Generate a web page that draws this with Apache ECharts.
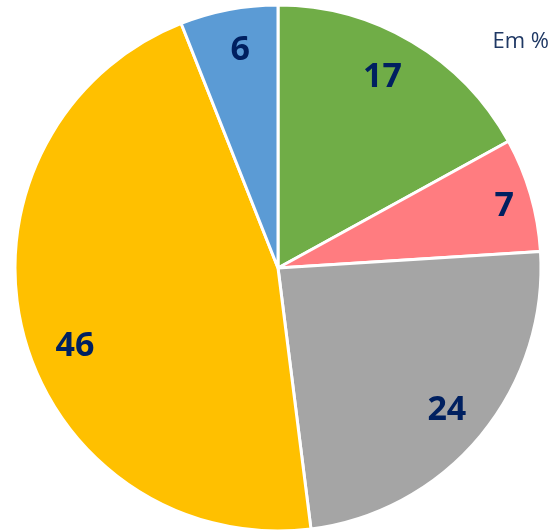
<!DOCTYPE html>
<html>
<head>
<meta charset="utf-8">
<script src="https://cdn.jsdelivr.net/npm/echarts@6/dist/echarts.min.js"></script>
<style>
	html, body { margin: 0; padding: 0; background: #fff; }
	#chart { width: 557px; height: 531px; }
</style>
</head>
<body>
<div id="chart"></div>
<script>
	var names = ['A', 'B', 'C', 'D', 'E']
	var values = [17, 7, 24, 46, 6]
	var colors = ['#70AD47', '#FF7C80', '#A5A5A5', '#FFC000', '#5B9BD5']

	var chart = echarts.init(document.getElementById('chart'))

	var labelFont = '"Open Sans", "Liberation Sans", sans-serif'
	// small nudges so the labels sit where the original placed them
	var labelNudge = [[-9, 1], [12, 1], [-3, 0], [13, 23], [4, 1]]

	chart.setOption({
		animation: false,
		title: {
			text: 'Em %',
			right: 3,
			top: 26,
			textStyle: {
				color: '#1F3864',
				fontSize: 22,
				fontWeight: 'normal',
				fontFamily: labelFont
			}
		},
		series: [
			{
				type: 'pie',
				center: [278, 268],
				radius: [0, 263],
				startAngle: 90,
				clockwise: true,
				silent: true,
				label: { show: false },
				labelLine: { show: false },
				itemStyle: {
					borderColor: '#fff',
					borderWidth: 3
				},
				data: values.map(function(v, i){
					return { name: names[i], value: v, itemStyle: { color: colors[i] } }
				})
			},
			{
				// transparent ring only used to place the labels further out
				type: 'pie',
				center: [278, 268],
				radius: [178, 262],
				startAngle: 90,
				clockwise: true,
				silent: true,
				itemStyle: { color: 'transparent' },
				label: {
					show: true,
					position: 'inside',
					formatter: '{c}',
					color: '#002060',
					fontSize: 34,
					fontWeight: 'bold',
					fontFamily: labelFont
				},
				labelLine: { show: false },
				data: values.map(function(v, i){
					return { name: names[i], value: v, label: { offset: labelNudge[i] } }
				})
			}
		]
	})
</script>
</body>
</html>
